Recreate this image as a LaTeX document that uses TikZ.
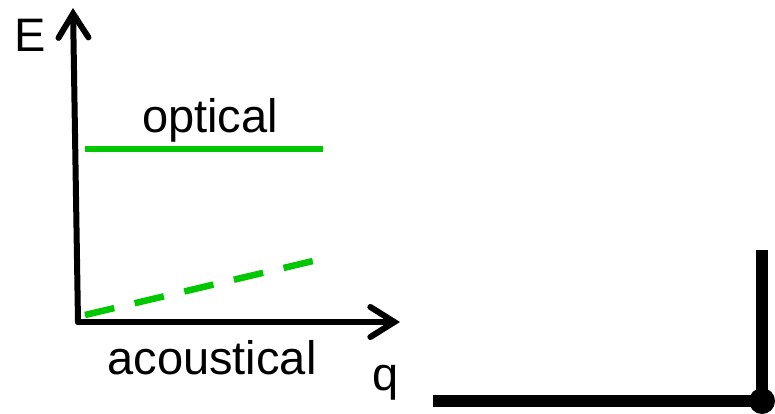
\documentclass[tikz,border=0pt]{standalone}
\usepackage{fontspec}
\setmainfont{Liberation Sans}
\usetikzlibrary{arrows.meta}
\definecolor{branchgreen}{HTML}{00C800}
\tikzset{
  axis/.style={line width=6pt, line cap=round,
    -{Straight Barb[length=24pt, width=30pt, line width=6pt, line cap=round]}},
  branch/.style={line width=6.5pt, branchgreen},
  lbl/.style={inner sep=0pt, font=\fontsize{47pt}{47pt}\selectfont},
  bar/.style={line width=12pt},
}
\begin{document}
\begin{tikzpicture}[x=1pt, y=-1pt]
  \useasboundingbox (0,0) rectangle (775,414);
  % axes
  \coordinate (origin) at (78,322);
  \coordinate (etop) at (73,8);
  \coordinate (qend) at (400,322);
  \draw[axis] (origin) -- (etop);
  \draw[axis] (origin) -- (qend);
  % dispersion branches
  \coordinate (optA) at (85,149);
  \coordinate (optB) at (323,149);
  \coordinate (acA) at (85,315);
  \coordinate (acB) at (313,261);
  \draw[branch] (optA) -- (optB);
  \draw[branch, dash pattern=on 30pt off 21pt] (acA) -- (acB);
  % labels
  \node[lbl, anchor=base] (elbl) at (30,52) {E};
  \node[lbl, anchor=base] (optlbl) at (210,133) {optical};
  \node[lbl, anchor=base] (aclbl) at (212,374) {acoustical};
  \node[lbl, anchor=base] (qlbl) at (386,390) {q};
  % corner bars with joint
  \coordinate (barL) at (433,401);
  \coordinate (joint) at (762,401);
  \coordinate (barT) at (765,250);
  \draw[bar] (barL) -- (joint);
  \draw[bar] (joint |- barT) -- (joint);
  \fill (joint) circle[radius=13pt];
\end{tikzpicture}
\end{document}
